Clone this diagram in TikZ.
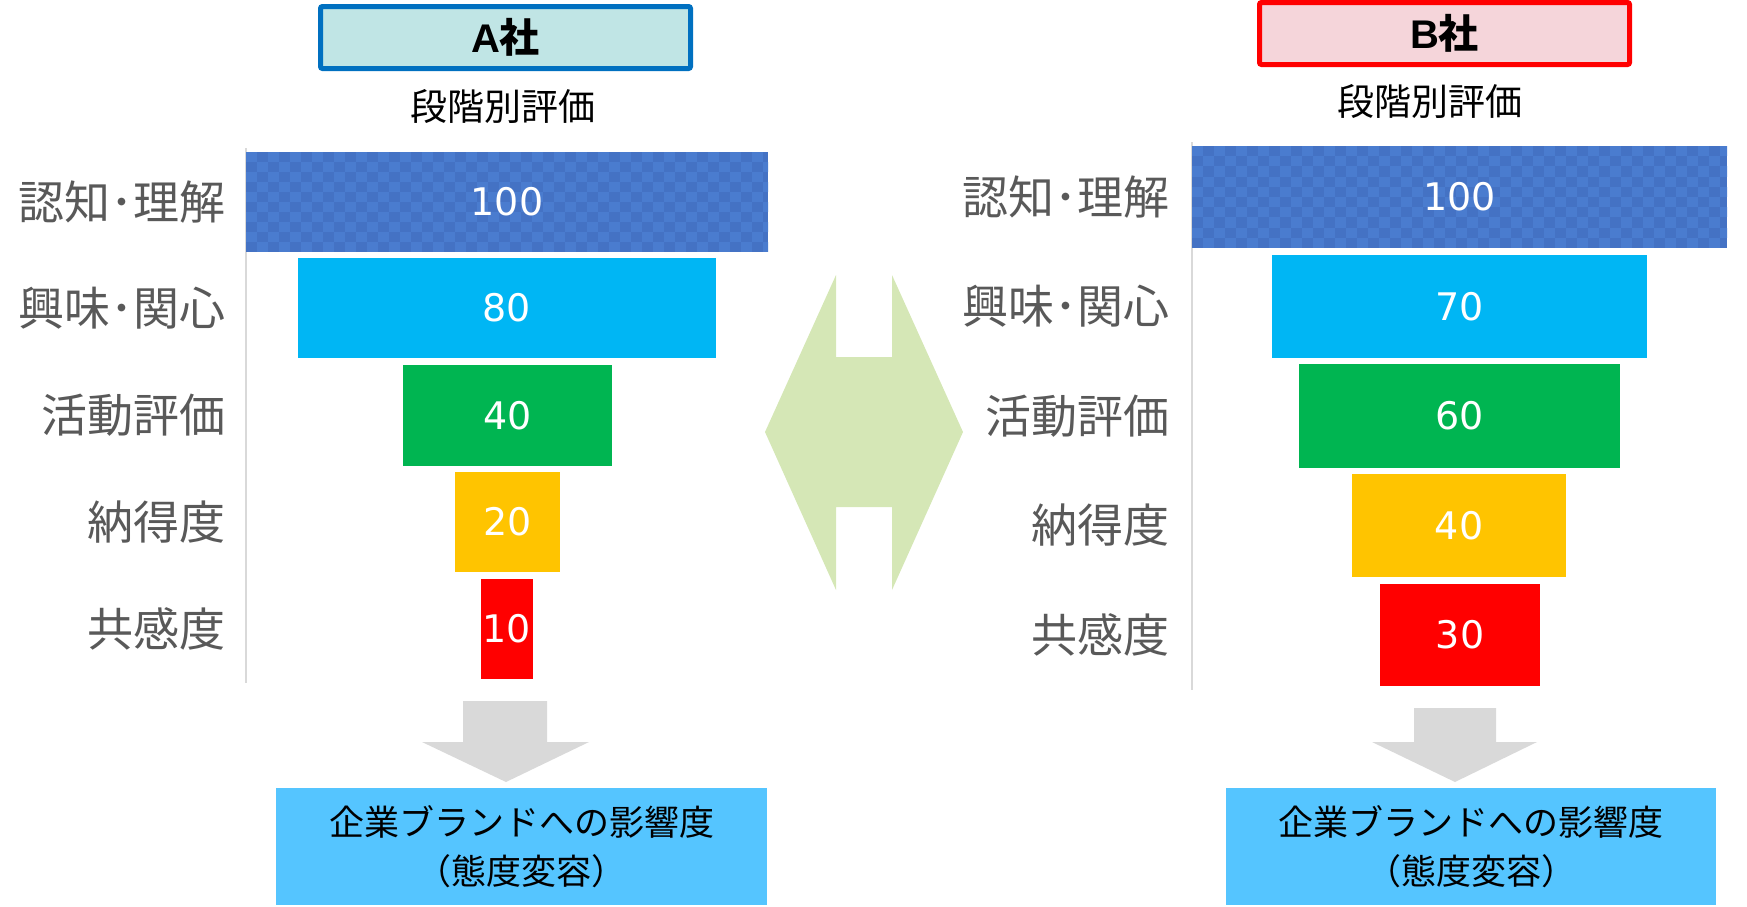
\documentclass[tikz,border=0pt]{standalone}
\usepackage{fontspec}
\setmainfont{Noto Sans CJK JP}
\newfontfamily\numfont{DejaVu Sans}
\newfontfamily\latinbold{Liberation Sans}
\definecolor{cbase}{HTML}{4472C4}
\definecolor{clight}{HTML}{4A7CCF}
\definecolor{ccyan}{HTML}{00B6F4}
\definecolor{cgreen}{HTML}{00B551}
\definecolor{cyellow}{HTML}{FFC400}
\definecolor{cred}{HTML}{FF0000}
\definecolor{labelgray}{HTML}{595959}
\definecolor{arrowgreen}{HTML}{D5E7B6}
\definecolor{arrowgray}{HTML}{D9D9D9}
\definecolor{boxblue}{HTML}{55C5FF}
\definecolor{hAfill}{HTML}{C0E5E5}
\definecolor{hAline}{HTML}{0070C0}
\definecolor{hBfill}{HTML}{F5D5DA}
\definecolor{hBline}{HTML}{FF0000}
\definecolor{axisgray}{HTML}{D9D9D9}
\tikzset{
  bar/.style={rectangle, inner sep=0pt, outer sep=0pt, text=white,
    font=\numfont\fontsize{38}{38}\selectfont},
  lbl/.style={anchor=east, inner sep=0pt, text=labelgray,
    font=\fontsize{46}{46}\selectfont},
  header/.style={rectangle, inner sep=0pt, line width=5pt, rounded corners=2pt,
    minimum width=370pt, minimum height=62pt,
    font=\fontsize{40}{40}\selectfont\bfseries},
  subtitle/.style={inner sep=0pt, font=\fontsize{37}{37}\selectfont},
  resultbox/.style={rectangle, inner sep=0pt, fill=boxblue, minimum height=117pt,
    align=center, font=\fontsize{35}{49}\selectfont},
  axisline/.style={draw=axisgray, line width=2pt},
}
% checkered blue bar background: #1 left, #2 top, #3 right, #4 bottom (10 rows)
\newcommand\checkerbg[4]{%
  \fill[cbase] (#1,#2) rectangle (#3,#4);
  \pgfmathsetmacro\ckh{(#4-#2)/10}
  \begin{scope}
    \clip (#1,#2) rectangle (#3,#4);
    \foreach \ci in {0,...,49}{
      \foreach \cj in {0,...,9}{
        \pgfmathtruncatemacro\ckodd{mod(\ci+\cj,2)}
        \ifnum\ckodd=0
          \fill[clight] (#1+\ci*11,#2+\cj*\ckh) rectangle ++(11,\ckh);
        \fi
      }
    }
  \end{scope}
}
\begin{document}
\begin{tikzpicture}[x=1pt,y=-1pt]
\useasboundingbox (0,0) rectangle (1747,906);

% ---------- A side ----------
\node[header, draw=hAline, fill=hAfill] (hA) at (505.5,37.5) {{\latinbold\bfseries A}社};
\node[subtitle] (sA) at (503,106) {段階別評価};
\draw[axisline] (246,148) coordinate (axA1) -- (246,683) coordinate (axA2);

\checkerbg{246}{152}{768}{252}
\node[bar, minimum width=522pt, minimum height=100pt] (a1) at (507,202) {100};
\node[bar, fill=ccyan,   minimum width=418pt, minimum height=100pt] (a2) at (507,308) {80};
\node[bar, fill=cgreen,  minimum width=209pt, minimum height=101pt] (a3) at (507.5,415.5) {40};
\node[bar, fill=cyellow, minimum width=105pt, minimum height=100pt] (a4) at (507.5,522) {20};
\node[bar, fill=cred,    minimum width=52pt,  minimum height=100pt] (a5) at (507,629) {10};

\node[lbl] (la1) at (226,202) {認知･理解};
\node[lbl] (la2) at (226,308) {興味･関心};
\node[lbl] (la3) at (226,415) {活動評価};
\node[lbl] (la4) at (226,522) {納得度};
\node[lbl] (la5) at (226,629) {共感度};

\fill[arrowgray] (463,701) -- (547,701) -- (547,742) -- (589,742) -- (506,782)
  -- (422,742) -- (463,742) -- cycle;
\node[resultbox, minimum width=491pt] (rA) at (521.5,846.5)
  {企業ブランドへの影響度\\（態度変容）};

% ---------- middle double arrow ----------
\fill[arrowgreen] (765,432) -- (836,275) -- (836,357) -- (892,357) -- (892,275)
  -- (963,432) -- (892,590) -- (892,507) -- (836,507) -- (836,590) -- cycle;

% ---------- B side ----------
\node[header, draw=hBline, fill=hBfill] (hB) at (1444.5,33.5) {{\latinbold\bfseries B}社};
\node[subtitle] (sB) at (1430,101) {段階別評価};
\draw[axisline] (1192,142) coordinate (axB1) -- (1192,690) coordinate (axB2);

\checkerbg{1192}{146}{1727}{248}
\node[bar, minimum width=535pt, minimum height=102pt] (b1) at (1459.5,197) {100};
\node[bar, fill=ccyan,   minimum width=375pt, minimum height=103pt] (b2) at (1459.5,306.5) {70};
\node[bar, fill=cgreen,  minimum width=321pt, minimum height=104pt] (b3) at (1459.5,416) {60};
\node[bar, fill=cyellow, minimum width=214pt, minimum height=103pt] (b4) at (1459,525.5) {40};
\node[bar, fill=cred,    minimum width=160pt, minimum height=102pt] (b5) at (1460,635) {30};

\node[lbl] (lb1) at (1170,197) {認知･理解};
\node[lbl] (lb2) at (1170,306) {興味･関心};
\node[lbl] (lb3) at (1170,416) {活動評価};
\node[lbl] (lb4) at (1170,525) {納得度};
\node[lbl] (lb5) at (1170,635) {共感度};

\fill[arrowgray] (1414,708) -- (1496,708) -- (1496,742) -- (1537,742) -- (1455,782)
  -- (1372,742) -- (1414,742) -- cycle;
\node[resultbox, minimum width=490pt] (rB) at (1471,846.5)
  {企業ブランドへの影響度\\（態度変容）};
\end{tikzpicture}
\end{document}
